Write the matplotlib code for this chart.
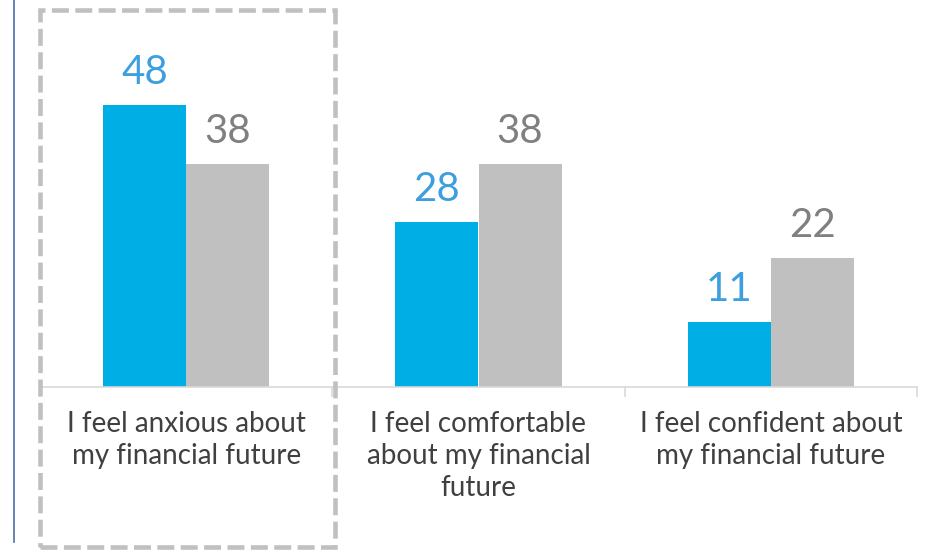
import matplotlib.pyplot as plt
import numpy as np
from matplotlib.patches import Rectangle
from matplotlib.lines import Line2D

categories = ['I feel anxious about\nmy financial future',
              'I feel comfortable\nabout my financial\nfuture',
              'I feel confident about\nmy financial future']
series_a = [48, 28, 11]
series_b = [38, 38, 22]

blue = '#00aee6'
grey = '#bfc0bf'

plt.rcParams['font.family'] = ['Lato', 'DejaVu Sans']

fig = plt.figure(figsize=(9.27, 5.51), dpi=100)
ax = fig.add_axes([40 / 927, 1 - 387 / 551, 877 / 927, 387 / 551])

x = np.arange(len(categories))
w = 0.284
bars_a = ax.bar(x - w / 2, series_a, w, color=blue, zorder=2)
bars_b = ax.bar(x + w / 2, series_b, w, color=grey, zorder=2)

for rect, v in zip(bars_a, series_a):
    ax.annotate(str(v), (rect.get_x() + rect.get_width() / 2, v),
                xytext=(0, 10), textcoords='offset points',
                ha='center', va='bottom', fontsize=29, color='#3d9fe0')
for rect, v in zip(bars_b, series_b):
    ax.annotate(str(v), (rect.get_x() + rect.get_width() / 2, v),
                xytext=(0, 10), textcoords='offset points',
                ha='center', va='bottom', fontsize=29, color='#808080')

ax.set_xlim(-0.5, 2.5)
ax.set_ylim(0, 387 / 5.88)

for s in ['top', 'left', 'right']:
    ax.spines[s].set_visible(False)
ax.spines['bottom'].set_color('#d9d9d9')
ax.spines['bottom'].set_linewidth(1.2)
ax.set_yticks([])

ax.set_xticks(x)
ax.set_xticklabels(categories, fontsize=20, color='#404040', linespacing=1.3)
ax.tick_params(axis='x', which='major', length=0, pad=17)
ax.set_xticks([-0.5, 0.5, 1.5, 2.5], minor=True)
ax.tick_params(axis='x', which='minor', length=7, width=1.2, color='#d9d9d9')

# dashed highlight box around the first group
box = Rectangle((40 / 927, 1 - 547 / 551), 295 / 927, 537 / 551,
                transform=fig.transFigure, fill=False, edgecolor='#c0c0c0',
                linewidth=3.3, linestyle=(0, (3.7, 1.4)))
fig.add_artist(box)

fig.add_artist(Line2D([14 / 927, 14 / 927], [1 - 542 / 551, 1],
                      transform=fig.transFigure, color='#4a70a8', linewidth=1.2))

fig.savefig('out.png', dpi=100)
